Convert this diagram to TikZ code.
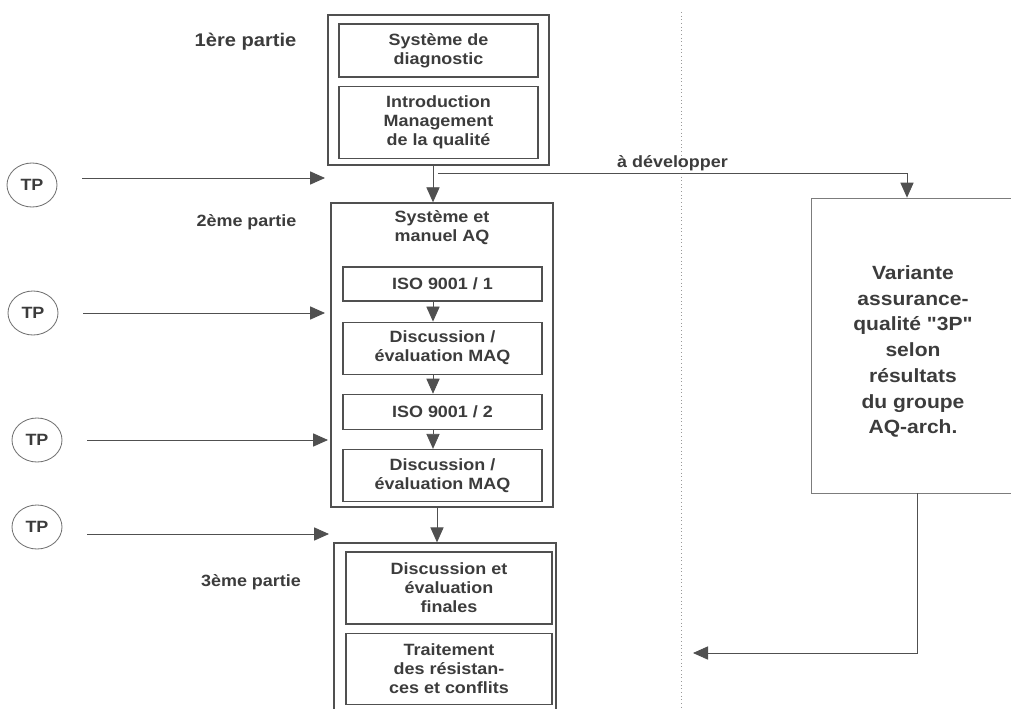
\documentclass[tikz,border=0pt]{standalone}
\usepackage{fontspec}
\setmainfont{Liberation Sans}[FakeStretch=1.1,Ligatures=TeXOff]
\usepackage{tikz}
\usetikzlibrary{arrows.meta,positioning,calc,shapes.geometric}
\definecolor{ink}{HTML}{3C3C3C}
\definecolor{rule}{HTML}{505050}

\begin{document}
\begin{tikzpicture}[x=0.025cm,y=-0.025cm,
  every node/.style={font=\bfseries\fontsize{11.6}{13.5}\selectfont,text=ink,align=center},
  outer/.style={draw=rule,line width=0.9pt,inner sep=0pt},
  inner/.style={draw=rule,line width=0.8pt,inner sep=0pt,minimum width=4.975cm},
  tp/.style={ellipse,draw=rule!80,line width=0.6pt,inner sep=0pt,
    minimum width=1.25cm,minimum height=1.1cm},
  flow/.style={color=rule,line width=0.6pt,-{Triangle[length=0.375cm,width=0.33cm]}},
  divider/.style={draw=gray!80,dotted,line width=0.6pt}]
   \useasboundingbox (0,0) rectangle (1011,709);

   % 1ere partie
   \node[outer,minimum width=5.525cm,minimum height=3.75cm] (part_1) at (438.5,90) {};
   \node[inner,minimum height=1.325cm] (diag) at (438.5,50.5) {Système de\\diagnostic};
   \node[inner,minimum height=1.8cm,below=0.2cm of diag] (intro) {Introduction\\Management\\de la qualité};
   \node (lbl_1) at (245.5,42) {\fontsize{13}{15}\selectfont 1ère partie};

   % 2eme partie
   \node[outer,minimum width=5.55cm,minimum height=7.6cm] (part_2) at (442,355) {};
   \node (title_2) at (442,228) {Système et\\manuel AQ};
   \node[inner,minimum height=0.85cm] (iso_1) at (442.5,284) {ISO 9001 / 1};
   \node[inner,minimum height=1.3cm,below=0.5cm of iso_1] (dis_1) {Discussion /\\évaluation MAQ};
   \node[inner,minimum height=0.875cm,below=0.475cm of dis_1] (iso_2) {ISO 9001 / 2};
   \node[inner,minimum height=1.3cm,below=0.475cm of iso_2] (dis_2) {Discussion /\\évaluation MAQ};
   \node (lbl_2) at (246.5,222) {2ème partie};

   % 3eme partie
   \node[outer,minimum width=5.55cm,minimum height=4.275cm] (part_3) at (445,628.5) {};
   \node[inner,minimum width=5.15cm,minimum height=1.8cm] (fin) at (449,588) {Discussion et\\évaluation\\finales};
   \node[inner,minimum width=5.15cm,minimum height=1.775cm,below=0.2cm of fin] (res) {Traitement\\des résistan-\\ces et conflits};
   \node (lbl_3) at (251,582) {3ème partie};

   % variante
   \node[draw=rule!75,line width=0.5pt,inner sep=0pt,minimum width=5.1cm,minimum height=7.375cm] (var) at (913,345.5) {};
   \node[font=\bfseries\fontsize{13.6}{18.3}\selectfont] (var_txt) at ($(var)+(0,6)$)
     {Variante\\assurance-\\qualité "3P"\\selon\\résultats\\du groupe\\AQ-arch.};

   \draw[divider] (681,12) -- (681,712);

   % TP
   \node[tp] (tp_1) at (32,185) {TP};
   \node[tp] (tp_2) at (33,313) {TP};
   \node[tp] (tp_3) at (37,440) {TP};
   \node[tp] (tp_4) at (37,527) {TP};
   \coordinate (in_1) at (325,178);
   \coordinate (in_2) at (325,313);
   \coordinate (in_3) at (328,440);
   \coordinate (in_4) at (329,534);
   \foreach \i in {1,...,4}
     \draw[flow,shorten <=0.62cm] (tp_\i.east |- in_\i) -- (in_\i);

   \coordinate (fork) at (438,173);
   \coordinate (back) at (693,653);

   \path[flow]
    ($(part_1.south)+(-5.5,0)$) edge ($(part_2.north)+(-9,0)$)
    ($(iso_1.south)+(-9.5,0)$) edge ($(dis_1.north)+(-9.5,0)$)
    ($(dis_1.south)+(-9.5,0)$) edge ($(iso_2.north)+(-9.5,0)$)
    ($(iso_2.south)+(-9.5,0)$) edge ($(dis_2.north)+(-9.5,0)$)
    ($(part_2.south)+(-5,0)$) edge ($(part_3.north)+(-8,0)$);

   \draw[flow] (fork) -| node[pos=0.25,above=0pt,inner sep=1pt] {à développer} ($(var.north)+(-6,0)$);
   \draw[flow] ($(var.south)+(4,0)$) |- (back);
\end{tikzpicture}
\end{document}
